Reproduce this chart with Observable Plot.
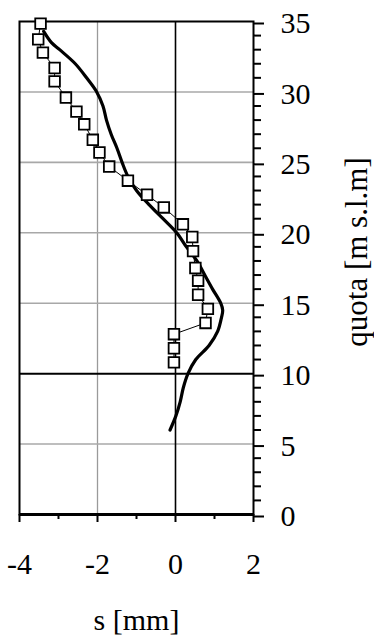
<!DOCTYPE html>
<html>
<head>
<meta charset="utf-8">
<script src="https://cdn.jsdelivr.net/npm/d3@7"></script>
<script src="https://cdn.jsdelivr.net/npm/@observablehq/plot@0.6"></script>
<style>
  html, body { margin: 0; padding: 0; background: #fff; }
  #chart svg text { font-family: "Liberation Serif", "DejaVu Serif", serif; }
</style>
</head>
<body>
<div id="chart"></div>
<script>
// Computed settlement profile: s [mm] against quota [m s.l.m]
const curveQuota = [34.3, 33.5, 33, 32, 31, 30, 29, 28, 27, 26, 25, 24, 23, 22, 21, 20, 19, 18, 17, 16, 15, 14.5, 14, 13, 12, 11, 10, 9, 8, 7, 6];
const curveS     = [-3.38, -3.18, -2.97, -2.57, -2.28, -2.02, -1.86, -1.77, -1.65, -1.50, -1.37, -1.22, -1.0, -0.68, -0.32, 0.03, 0.28, 0.55, 0.75, 0.95, 1.16, 1.21, 1.18, 1.08, 0.86, 0.52, 0.32, 0.20, 0.12, 0.01, -0.14];

// Measured settlements (open squares)
const measQuota = [34.85, 33.73, 32.79, 31.7, 30.75, 29.6, 28.6, 27.7, 26.6, 25.7, 24.7, 23.7, 22.7, 21.8, 20.6, 19.7, 18.7, 17.5, 16.6, 15.6, 14.6, 13.6, 12.8, 11.8, 10.8];
const measS     = [-3.46, -3.52, -3.40, -3.10, -3.10, -2.81, -2.54, -2.34, -2.12, -1.95, -1.70, -1.22, -0.73, -0.30, 0.19, 0.43, 0.45, 0.51, 0.58, 0.58, 0.83, 0.77, -0.04, -0.04, -0.04];

// Axis ticks and titles
const xMajor = [-4, -2, 0, 2];
const xMinor = [-3, -1, 1];
const yMajor = [0, 5, 10, 15, 20, 25, 30, 35];
const yMinor = d3.range(0, 36).filter(v => v % 5 !== 0);
const yGridGray = [5, 15, 20, 25, 30];
const xTitle = ["s [mm]"];
const yTitle = ["quota [m s.l.m]"];

const curve = curveQuota.map((q, i) => ({quota: q, s: curveS[i]}));
const meas = measQuota.map((q, i) => ({quota: q, s: measS[i]}));

const chart = Plot.plot({
  width: 374,
  height: 636,
  marginLeft: 19,
  marginRight: 121,
  marginTop: 21,
  marginBottom: 122,
  style: "font-family: 'Liberation Serif', 'DejaVu Serif', serif; font-size: 30px; background: white; color: black; overflow: visible;",
  x: {domain: [-4, 2]},
  y: {domain: [0, 35]},
  marks: [
    Plot.ruleX([-2], {stroke: "#9a9a9a", strokeWidth: 1.3}),
    Plot.ruleY(yGridGray, {stroke: "#a8a8a8", strokeWidth: 1.6}),
    Plot.ruleX([0], {stroke: "black", strokeWidth: 1.6}),
    Plot.ruleY([10], {stroke: "black", strokeWidth: 2}),
    Plot.frame({stroke: "black", strokeWidth: 2}),
    Plot.ruleY([0], {stroke: "black", strokeWidth: 3}),
    Plot.axisX({ticks: xMajor, tickSize: 8, tickPadding: 30, strokeWidth: 2, fontSize: 30,
      tickFormat: d => String(d), label: null}),
    Plot.axisX({ticks: xMinor, tickSize: 5, strokeWidth: 2, tickFormat: () => "", label: null}),
    Plot.axisY({anchor: "right", ticks: yMajor, tickSize: 10, tickPadding: 17, strokeWidth: 2, fontSize: 30,
      dy: 2, label: null}),
    Plot.axisY({anchor: "right", ticks: yMinor, tickSize: 7, strokeWidth: 2, tickFormat: () => "", label: null}),
    Plot.text(xTitle, {text: d => d, frameAnchor: "bottom", textAnchor: "middle", lineAnchor: "middle",
      dy: 106, fontSize: 30}),
    Plot.text(yTitle, {text: d => d, frameAnchor: "right", textAnchor: "middle", lineAnchor: "middle",
      rotate: -90, dx: 104, dy: -16, fontSize: 31}),
    Plot.line(curve, {x: "s", y: "quota", stroke: "black", strokeWidth: 3.2, curve: "catmull-rom"}),
    Plot.line(meas, {x: "s", y: "quota", stroke: "black", strokeWidth: 1}),
    Plot.dot(meas, {x: "s", y: "quota", symbol: "square", r: 6, fill: "white", stroke: "black", strokeWidth: 1.8})
  ]
});

document.getElementById("chart").appendChild(chart);
</script>
</body>
</html>
